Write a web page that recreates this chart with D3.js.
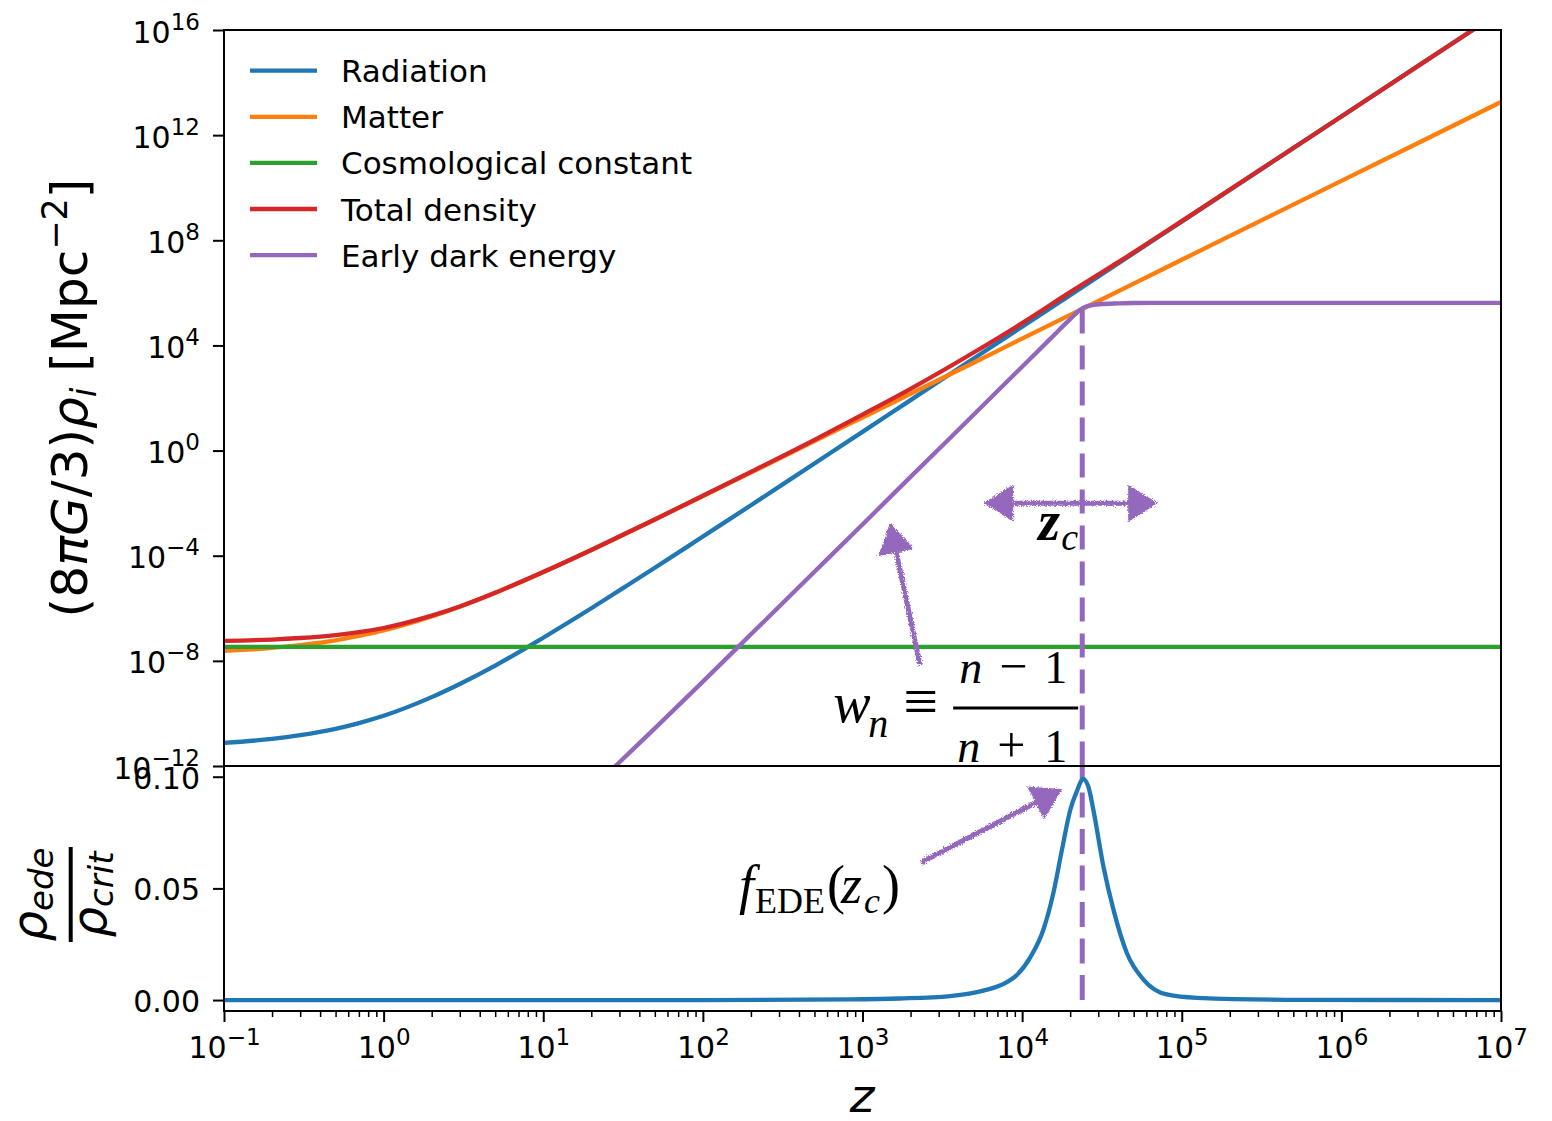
<!DOCTYPE html>
<html>
<head>
<meta charset="utf-8">
<script src="https://cdn.jsdelivr.net/npm/d3@7"></script>
<style>
body { margin: 0; background: #fff; }
svg { font-family: "DejaVu Sans", sans-serif; }
</style>
</head>
<body>
<svg id="chart" width="1552" height="1121"></svg>
<script>

// densities, as log10 values
const zGrid = [0.1, 0.2, 0.3, 0.5, 0.7, 1, 2, 3, 5, 7, 10, 20, 30, 50, 100, 200, 500, 1e3, 2e3, 5e3, 1e4, 2e4, 5e4, 1e5, 1e6, 1e7];
const radiationLog = [-11.12, -10.97, -10.83, -10.59, -10.37, -10.09, -9.38, -8.88, -8.18, -7.68, -7.12, -6.00, -5.32, -4.46, -3.27, -2.08, -0.49, 0.71, 1.92, 3.51, 4.71, 5.91, 7.51, 8.71, 12.71, 16.71];
const matterLog = [-7.62, -7.51, -7.40, -7.22, -7.05, -6.84, -6.31, -5.94, -5.41, -5.04, -4.62, -3.78, -3.27, -2.62, -1.73, -0.84, 0.36, 1.26, 2.16, 3.35, 4.26, 5.16, 6.35, 7.26, 10.26, 13.26];
const totalLog = [-7.24, -7.19, -7.13, -7.02, -6.91, -6.75, -6.28, -5.93, -5.41, -5.03, -4.62, -3.78, -3.27, -2.62, -1.72, -0.81, 0.41, 1.37, 2.35, 3.74, 4.85, 6.03, 7.54, 8.73, 12.71, 16.71];
const lambdaZ = [0.1, 1e7];
const lambdaLog = [-7.47, -7.47];
const edeZ = [25, 30, 50, 100, 200, 500, 1e3, 2e3, 5e3, 1e4, 1.5e4, 2e4, 2.33e4, 2.5e4, 2.8e4, 3.1e4, 4e4, 5e4, 1e5, 1e6, 1e7];
const edeLog = [-12.32, -11.86, -10.57, -8.79, -6.99, -4.61, -2.81, -1.00, 1.38, 3.19, 4.25, 5.00, 5.37, 5.47, 5.54, 5.57, 5.60, 5.615, 5.62, 5.62, 5.62];

// bottom panel: rho_ede / rho_crit
const fedeZ = [0.1, 100, 836, 1720, 3540, 5722, 8020, 9265, 11220, 13600, 15700, 17730, 20000, 22170, 24010, 26000, 27970, 32310, 37330, 45290, 57540, 80660, 124300, 552000, 1e7];
const fedeVal = [0, 0, 0.0003, 0.0007, 0.0018, 0.0042, 0.0080, 0.0112, 0.0190, 0.0316, 0.048, 0.067, 0.085, 0.094, 0.099, 0.0955, 0.085, 0.0598, 0.0405, 0.0211, 0.0092, 0.0025, 0.0010, 0.0001, 0];

const zc = 2.38e4;
const zcDensityLog = 5.37;

const seriesNames = ['Radiation', 'Matter', 'Cosmological constant', 'Total density', 'Early dark energy'];
const seriesColors = ['#1f77b4', '#ff7f0e', '#2ca02c', '#d62728', '#9467bd'];

const topTickExps = [-12, -8, -4, 0, 4, 8, 12, 16];
const xTickExps = [-1, 0, 1, 2, 3, 4, 5, 6, 7];
const botTicks = [0, 0.05, 0.10];

//-----------------------------------------

const left = 224, right = 1501, topY = 30, midY = 766, botY = 1011;
const purple = '#9467bd';
const serif = '"Liberation Serif", "DejaVu Serif", serif';
const lw = 4.3;

let svg = d3.select('#chart');

let x = d3.scaleLog().domain([0.1, 1e7]).range([left, right]);
let yTop = d3.scaleLog().domain([1e-12, 1e16]).range([midY, topY]);
let yBot = d3.scaleLinear().domain([-0.0049, 0.1048]).range([botY, midY]);

let defs = svg.append('defs');
defs.append('clipPath').attr('id', 'clip-top')
	.append('rect').attr('x', left).attr('y', topY).attr('width', right - left).attr('height', midY - topY);
defs.append('clipPath').attr('id', 'clip-bot')
	.append('rect').attr('x', left).attr('y', midY).attr('width', right - left).attr('height', botY - midY);

let rough = defs.append('filter').attr('id', 'rough')
	.attr('filterUnits', 'userSpaceOnUse')
	.attr('x', 0).attr('y', 0).attr('width', 1552).attr('height', 1121);
rough.append('feTurbulence').attr('type', 'fractalNoise').attr('baseFrequency', 0.9).attr('numOctaves', 2).attr('seed', 4).attr('result', 'noise');
rough.append('feDisplacementMap').attr('in', 'SourceGraphic').attr('in2', 'noise').attr('scale', 5)
	.attr('xChannelSelector', 'R').attr('yChannelSelector', 'G');

let series = [
	zGrid.map((z, i) => [z, radiationLog[i]]),
	zGrid.map((z, i) => [z, matterLog[i]]),
	lambdaZ.map((z, i) => [z, lambdaLog[i]]),
	zGrid.map((z, i) => [z, totalLog[i]]),
	edeZ.map((z, i) => [z, edeLog[i]])
];

let topLine = d3.line()
	.x(d => x(d[0]))
	.y(d => yTop(Math.pow(10, d[1])))
	.curve(d3.curveMonotoneX);

let topPlot = svg.append('g').attr('clip-path', 'url(#clip-top)');

topPlot.selectAll('path')
	.data(series)
	.enter()
	.append('path')
	.attr('d', topLine)
	.attr('fill', 'none')
	.attr('stroke', (d, i) => seriesColors[i])
	.attr('stroke-width', lw);

// dashed z_c markers
topPlot.append('line')
	.attr('x1', x(zc)).attr('x2', x(zc))
	.attr('y1', yTop(Math.pow(10, zcDensityLog))).attr('y2', midY)
	.attr('stroke', purple).attr('stroke-width', 5).attr('stroke-dasharray', '24,12');

let botPlot = svg.append('g').attr('clip-path', 'url(#clip-bot)');

botPlot.append('line')
	.attr('x1', x(zc)).attr('x2', x(zc))
	.attr('y1', yBot(0)).attr('y2', midY)
	.attr('stroke', purple).attr('stroke-width', 5).attr('stroke-dasharray', '25,11.5');

let botLine = d3.line()
	.x((d, i) => x(d))
	.y((d, i) => yBot(fedeVal[i]))
	.curve(d3.curveMonotoneX);

botPlot.append('path')
	.attr('d', botLine(fedeZ))
	.attr('fill', 'none')
	.attr('stroke', seriesColors[0])
	.attr('stroke-width', lw);

// frames
let frames = [[topY, midY], [midY, botY]];
frames.map(r => {
	svg.append('rect')
		.attr('x', left).attr('y', r[0])
		.attr('width', right - left).attr('height', r[1] - r[0])
		.attr('fill', 'none').attr('stroke', '#000').attr('stroke-width', 2);
});

//-----------------------------------------

// AXES

function powLabel(sel, e) {
	sel.text(null);
	sel.append('tspan').text('10');
	sel.append('tspan').attr('font-size', 23).attr('dy', -13).text(e < 0 ? '\u2212' + (-e) : String(e));
}

function styleAxis(g) {
	g.select('.domain').remove();
	g.attr('font-family', '"DejaVu Sans", sans-serif').attr('font-size', 30);
	g.selectAll('.tick line').attr('stroke-width', 2);
}

let yTopAxis = svg.append('g')
	.attr('transform', `translate(${left},0)`)
	.call(d3.axisLeft(yTop).tickValues(topTickExps.map(e => Math.pow(10, e))).tickSize(11).tickPadding(13))
	.call(styleAxis);

yTopAxis.selectAll('.tick text')
	.attr('dy', 12)
	.each(function(d, i) { powLabel(d3.select(this), topTickExps[i]); });

let yBotAxis = svg.append('g')
	.attr('transform', `translate(${left},0)`)
	.call(d3.axisLeft(yBot).tickValues(botTicks).tickFormat(d3.format('.2f')).tickSize(11).tickPadding(13))
	.call(styleAxis);

yBotAxis.selectAll('.tick text').attr('dy', 11.5);

let xAxis = svg.append('g')
	.attr('transform', `translate(0,${botY})`)
	.call(d3.axisBottom(x).tickValues(xTickExps.map(e => Math.pow(10, e))).tickSize(11))
	.call(styleAxis);

xAxis.selectAll('.tick text')
	.attr('y', 47).attr('dy', 0)
	.each(function(d, i) { powLabel(d3.select(this), xTickExps[i]); });

let minorTicks = [];
xTickExps.slice(0, -1).map(e => {
	for (let m = 2; m < 10; m++) minorTicks.push(m * Math.pow(10, e));
});

svg.append('g')
	.attr('transform', `translate(0,${botY})`)
	.call(d3.axisBottom(x).tickValues(minorTicks).tickSize(6).tickFormat(''))
	.call(g => { g.select('.domain').remove(); g.selectAll('.tick line').attr('stroke-width', 1.5); });

// axis labels
let yLab = svg.append('text')
	.attr('transform', 'translate(87,398) rotate(-90)')
	.attr('text-anchor', 'middle')
	.attr('font-size', 50);

yLab.append('tspan').text('(8');
yLab.append('tspan').attr('font-style', 'italic').text('\u03c0G');
yLab.append('tspan').text('/3)');
yLab.append('tspan').attr('font-style', 'italic').text('\u03c1');
yLab.append('tspan').attr('font-style', 'italic').attr('font-size', 35).attr('dy', 9).text('i');
yLab.append('tspan').attr('dy', -9).text(' [Mpc');
yLab.append('tspan').attr('font-size', 35).attr('dy', -20).text('\u22122');
yLab.append('tspan').attr('dy', 20).text(']');

let fracLab = svg.append('g')
	.attr('transform', 'translate(70.7,894.5) rotate(-90)');

fracLab.append('line')
	.attr('x1', -47.5).attr('x2', 47.5)
	.attr('stroke', '#000').attr('stroke-width', 4);

let num = fracLab.append('text').attr('text-anchor', 'middle').attr('y', -24.5).attr('font-size', 48).attr('font-style', 'italic');
num.append('tspan').text('\u03c1');
num.append('tspan').attr('font-size', 34).attr('dy', 7).text('ede');

let den = fracLab.append('text').attr('text-anchor', 'middle').attr('y', 35.5).attr('font-size', 48).attr('font-style', 'italic');
den.append('tspan').text('\u03c1');
den.append('tspan').attr('font-size', 34).attr('dy', 7).text('crit');

svg.append('text')
	.attr('x', 862).attr('y', 1112)
	.attr('text-anchor', 'middle')
	.attr('font-size', 47)
	.attr('font-style', 'italic')
	.text('z');

//-----------------------------------------

// LEGEND

let legend = svg.append('g');

seriesNames.map((name, i) => {
	let ly = 70.7 + 46.1 * i;
	legend.append('line')
		.attr('x1', 250).attr('x2', 317)
		.attr('y1', ly).attr('y2', ly)
		.attr('stroke', seriesColors[i]).attr('stroke-width', lw);
	legend.append('text')
		.attr('x', 341).attr('y', ly + 11.5)
		.attr('font-size', 31)
		.text(name);
});

//-----------------------------------------

// ANNOTATIONS

let annot = svg.append('g').attr('filter', 'url(#rough)');

function head(g, tx, ty, ux, uy, len, wid) {
	let bx = tx - ux * len, by = ty - uy * len;
	let px = -uy, py = ux;
	let pts = [[tx, ty], [bx + px * wid / 2, by + py * wid / 2], [bx - px * wid / 2, by - py * wid / 2]];
	g.append('polygon').attr('points', pts.map(p => p.join(',')).join(' ')).attr('fill', purple);
}

function arrow(p1, p2, both) {
	let dx = p2[0] - p1[0], dy = p2[1] - p1[1];
	let l = Math.sqrt(dx * dx + dy * dy);
	let ux = dx / l, uy = dy / l;
	let len = 30, wid = 37;
	let g = annot.append('g');
	g.append('line')
		.attr('x1', p1[0] + (both ? ux * len * 0.8 : 0)).attr('y1', p1[1] + (both ? uy * len * 0.8 : 0))
		.attr('x2', p2[0] - ux * len * 0.8).attr('y2', p2[1] - uy * len * 0.8)
		.attr('stroke', purple).attr('stroke-width', 5);
	head(g, p2[0], p2[1], ux, uy, len, wid);
	if (both) head(g, p1[0], p1[1], -ux, -uy, len, wid);
}

arrow([x(zc / 4.17), yTop(1e-2)], [x(zc * 2.99), yTop(1e-2)], true);
arrow([x(2296), yTop(Math.pow(10, -8.16))], [x(1489), yTop(Math.pow(10, -2.76))], false);
arrow([x(2328), yBot(0.0616)], [x(17810), yBot(0.0945)], false);

// z_c
let zcX = x(12970), zcY = yTop(Math.pow(10, -3.41));
svg.append('text').attr('x', zcX - 2).attr('y', zcY)
	.attr('font-family', serif).attr('font-size', 56).attr('font-weight', 'bold').attr('font-style', 'italic')
	.text('z');
svg.append('text').attr('x', zcX + 21).attr('y', zcY + 10)
	.attr('font-family', serif).attr('font-size', 38).attr('font-style', 'italic')
	.text('c');

// w_n = (n-1)/(n+1)
let wX = x(655), wY = yTop(Math.pow(10, -10.33));
let wParts = [
	['w', 0, 0, 56, true],
	['n', 35, 15, 40, true],
	['\u2261', 70, 0, 62, false],
	['n', 126, -39, 46, true],
	['\u2212', 166, -39, 50, false],
	['1', 211, -39, 46, false],
	['n', 124, 40, 46, true],
	['+', 164, 40, 50, false],
	['1', 211, 40, 46, false]
];
wParts.map(p => {
	svg.append('text')
		.attr('x', wX + p[1]).attr('y', wY + p[2])
		.attr('font-family', serif).attr('font-size', p[3])
		.attr('font-style', p[4] ? 'italic' : 'normal')
		.text(p[0]);
});
svg.append('line')
	.attr('x1', wX + 120).attr('x2', wX + 245)
	.attr('y1', wY - 14).attr('y2', wY - 14)
	.attr('stroke', '#000').attr('stroke-width', 3);

// f_EDE(z_c)
let fX = x(154.5), fY = yBot(0.0433);
let fParts = [
	['f', 6, 0, 54, true],
	['EDE', 22, 10, 36, false],
	['(', 94, 0, 54, false],
	['z', 108, 0, 54, true],
	['c', 131, 10, 36, true],
	[')', 149, 0, 54, false]
];
fParts.map(p => {
	svg.append('text')
		.attr('x', fX + p[1]).attr('y', fY + p[2])
		.attr('font-family', serif).attr('font-size', p[3])
		.attr('font-style', p[4] ? 'italic' : 'normal')
		.text(p[0]);
});

</script>
</body>
</html>
